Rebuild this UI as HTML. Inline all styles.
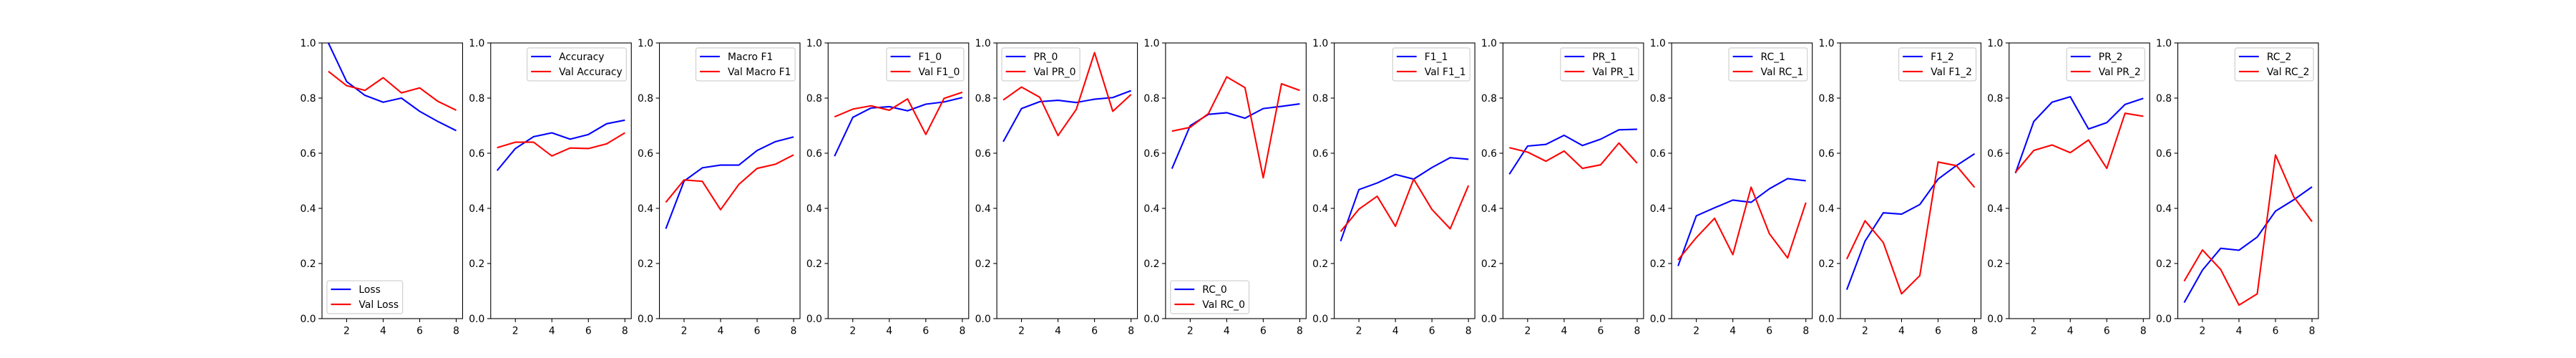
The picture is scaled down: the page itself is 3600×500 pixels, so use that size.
<!DOCTYPE html>
<html><head><meta charset="utf-8">
<style>
html,body{margin:0;padding:0;background:#fff;}
svg{display:block;}
text{font-family:"DejaVu Sans","Liberation Sans",sans-serif;font-size:13.9px;fill:#000;}
</style></head>
<body>
<svg id="fig" width="3600" height="500" xmlns="http://www.w3.org/2000/svg"></svg>
<script>
const epochs = [1,2,3,4,5,6,7,8];
const yTicks = [0,0.2,0.4,0.6,0.8,1.0];
const yTickLabels = ["0.0","0.2","0.4","0.6","0.8","1.0"];
const xTicks = [2,4,6,8];
const xTickLabels = ["2","4","6","8"];

const trainLabels = ["Loss","Accuracy","Macro F1","F1_0","PR_0","RC_0","F1_1","PR_1","RC_1","F1_2","PR_2","RC_2"];
const valLabels = ["Val Loss","Val Accuracy","Val Macro F1","Val F1_0","Val PR_0","Val RC_0","Val F1_1","Val PR_1","Val RC_1","Val F1_2","Val PR_2","Val RC_2"];
const legendLoc = ["ll","ur","ur","ur","ul","ll","ur","ur","ur","ur","ur","ur"];

const loss = [1.0,0.86,0.81,0.785,0.80,0.752,0.715,0.682];
const valLoss = [0.897,0.845,0.828,0.874,0.819,0.837,0.788,0.756];
const acc = [0.537,0.617,0.66,0.674,0.651,0.668,0.707,0.72];
const valAcc = [0.62,0.64,0.64,0.59,0.619,0.617,0.634,0.674];
const macroF1 = [0.326,0.499,0.547,0.557,0.557,0.61,0.642,0.659];
const valMacroF1 = [0.422,0.503,0.498,0.395,0.487,0.545,0.56,0.594];
const f1_0 = [0.589,0.73,0.764,0.769,0.754,0.778,0.786,0.802];
const valF1_0 = [0.732,0.76,0.772,0.756,0.797,0.668,0.799,0.821];
const pr_0 = [0.642,0.762,0.787,0.792,0.784,0.796,0.802,0.827];
const valPr_0 = [0.793,0.84,0.803,0.664,0.759,0.965,0.752,0.813];
const rc_0 = [0.544,0.70,0.741,0.747,0.727,0.762,0.77,0.779];
const valRc_0 = [0.68,0.694,0.744,0.877,0.838,0.511,0.852,0.828];
const f1_1 = [0.281,0.468,0.492,0.523,0.506,0.548,0.584,0.578];
const valF1_1 = [0.316,0.397,0.444,0.335,0.506,0.396,0.326,0.483];
const pr_1 = [0.524,0.626,0.632,0.665,0.628,0.651,0.685,0.687];
const valPr_1 = [0.62,0.604,0.571,0.608,0.545,0.558,0.637,0.564];
const rc_1 = [0.191,0.373,0.402,0.43,0.422,0.471,0.508,0.50];
const valRc_1 = [0.213,0.294,0.364,0.232,0.477,0.308,0.22,0.421];
const f1_2 = [0.105,0.281,0.384,0.379,0.414,0.506,0.555,0.598];
const valF1_2 = [0.216,0.355,0.276,0.09,0.156,0.568,0.555,0.476];
const pr_2 = [0.528,0.715,0.785,0.805,0.688,0.711,0.777,0.799];
const valPr_2 = [0.531,0.61,0.63,0.602,0.648,0.545,0.745,0.734];
const rc_2 = [0.058,0.176,0.255,0.248,0.296,0.39,0.431,0.478];
const valRc_2 = [0.136,0.249,0.178,0.049,0.09,0.594,0.442,0.352];

const trainSeries = [loss,acc,macroF1,f1_0,pr_0,rc_0,f1_1,pr_1,rc_1,f1_2,pr_2,rc_2];
const valSeries = [valLoss,valAcc,valMacroF1,valF1_0,valPr_0,valRc_0,valF1_1,valPr_1,valRc_1,valF1_2,valPr_2,valRc_2];

const NS = "http://www.w3.org/2000/svg";
const svg = document.getElementById("fig");
function mk(tag, attrs, parent){
  const e = document.createElementNS(NS, tag);
  for (const k in attrs) e.setAttribute(k, attrs[k]);
  (parent||svg).appendChild(e);
  return e;
}
function slug(s){return s.toLowerCase().replace(/[^a-z0-9]+/g,'-').replace(/^-|-$/g,'');}

const L = 450, R = 3240, T = 60, B = 445;
const W = (R - L) / 14.2, GAP = 0.2 * W;
const xMin = 0.65, xMax = 8.35;
const FS = 13.9;

for (let i = 0; i < 12; i++) {
  const x0 = L + i * (W + GAP), x1 = x0 + W;
  const xs = v => x0 + (v - xMin) / (xMax - xMin) * W;
  const ys = v => B - v * (B - T);
  const g = mk("g", {});
  
  

  // y ticks
  yTicks.forEach((t, k) => {
    const y = ys(t);
    const tk = mk("line", {x1: x0 - 4.9, x2: x0, y1: y, y2: y, stroke: "#000", "stroke-width": 1.1}, g);
    
    
    const tl = mk("text", {x: x0 - 8.4, y: y + 5, "text-anchor": "end"}, g);
    tl.textContent = yTickLabels[k];
    
    
  });
  // x ticks
  xTicks.forEach((t, k) => {
    const x = xs(t);
    const tk = mk("line", {x1: x, x2: x, y1: B, y2: B + 4.9, stroke: "#000", "stroke-width": 1.1}, g);
    
    
    const tl = mk("text", {x: x, y: B + 21.5, "text-anchor": "middle"}, g);
    tl.textContent = xTickLabels[k];
    
    
  });

  // lines
  const tp = trainSeries[i].map((v, k) => xs(epochs[k]) + "," + ys(v)).join(" ");
  const vp = valSeries[i].map((v, k) => xs(epochs[k]) + "," + ys(v)).join(" ");
  const clipId = "clip" + i;
  const cp = mk("clipPath", {id: clipId}, g);
  mk("rect", {x: x0, y: T, width: W, height: B - T}, cp);
  const tl = mk("polyline", {points: tp, fill: "none", stroke: "#0000ff", "stroke-width": 2.08, "stroke-linejoin": "round", "clip-path": "url(#" + clipId + ")"}, g);
  
  
  const vl = mk("polyline", {points: vp, fill: "none", stroke: "#ff0000", "stroke-width": 2.08, "stroke-linejoin": "round", "clip-path": "url(#" + clipId + ")"}, g);
  
  

  // frame
  const fr = mk("rect", {x: x0, y: T, width: W, height: B - T, fill: "none", stroke: "#000", "stroke-width": 1.1}, g);
  
  

  // legend
  const lg = mk("g", {}, g);
  
  
  const box = mk("rect", {rx: 2.8, ry: 2.8, fill: "#fff", "fill-opacity": 0.8, stroke: "#cccccc", "stroke-width": 1.1}, lg);
  const t1 = mk("text", {}, lg); t1.textContent = trainLabels[i];
  
  
  const t2 = mk("text", {}, lg); t2.textContent = valLabels[i];
  
  
  const tw = Math.max(t1.getComputedTextLength(), t2.getComputedTextLength());
  const bw = 5.6 + 27.8 + 11.1 + tw + 5.6;
  const bh = 46;
  let bx, by;
  if (legendLoc[i] === "ur") { bx = x1 - 6.9 - bw; by = T + 6.9; }
  else if (legendLoc[i] === "ul") { bx = x0 + 6.9; by = T + 6.9; }
  else { bx = x0 + 6.9; by = B - 6.9 - bh; }
  box.setAttribute("x", bx); box.setAttribute("y", by);
  box.setAttribute("width", bw); box.setAttribute("height", bh);
  const r1 = by + 12, r2 = by + 33;
  const h1 = mk("line", {x1: bx + 5.6, x2: bx + 33.4, y1: r1, y2: r1, stroke: "#0000ff", "stroke-width": 2.08}, lg);
  
  
  const h2 = mk("line", {x1: bx + 5.6, x2: bx + 33.4, y1: r2, y2: r2, stroke: "#ff0000", "stroke-width": 2.08}, lg);
  
  
  t1.setAttribute("x", bx + 44.5); t1.setAttribute("y", r1 + 5);
  t2.setAttribute("x", bx + 44.5); t2.setAttribute("y", r2 + 5);
}
</script>
</body></html>
